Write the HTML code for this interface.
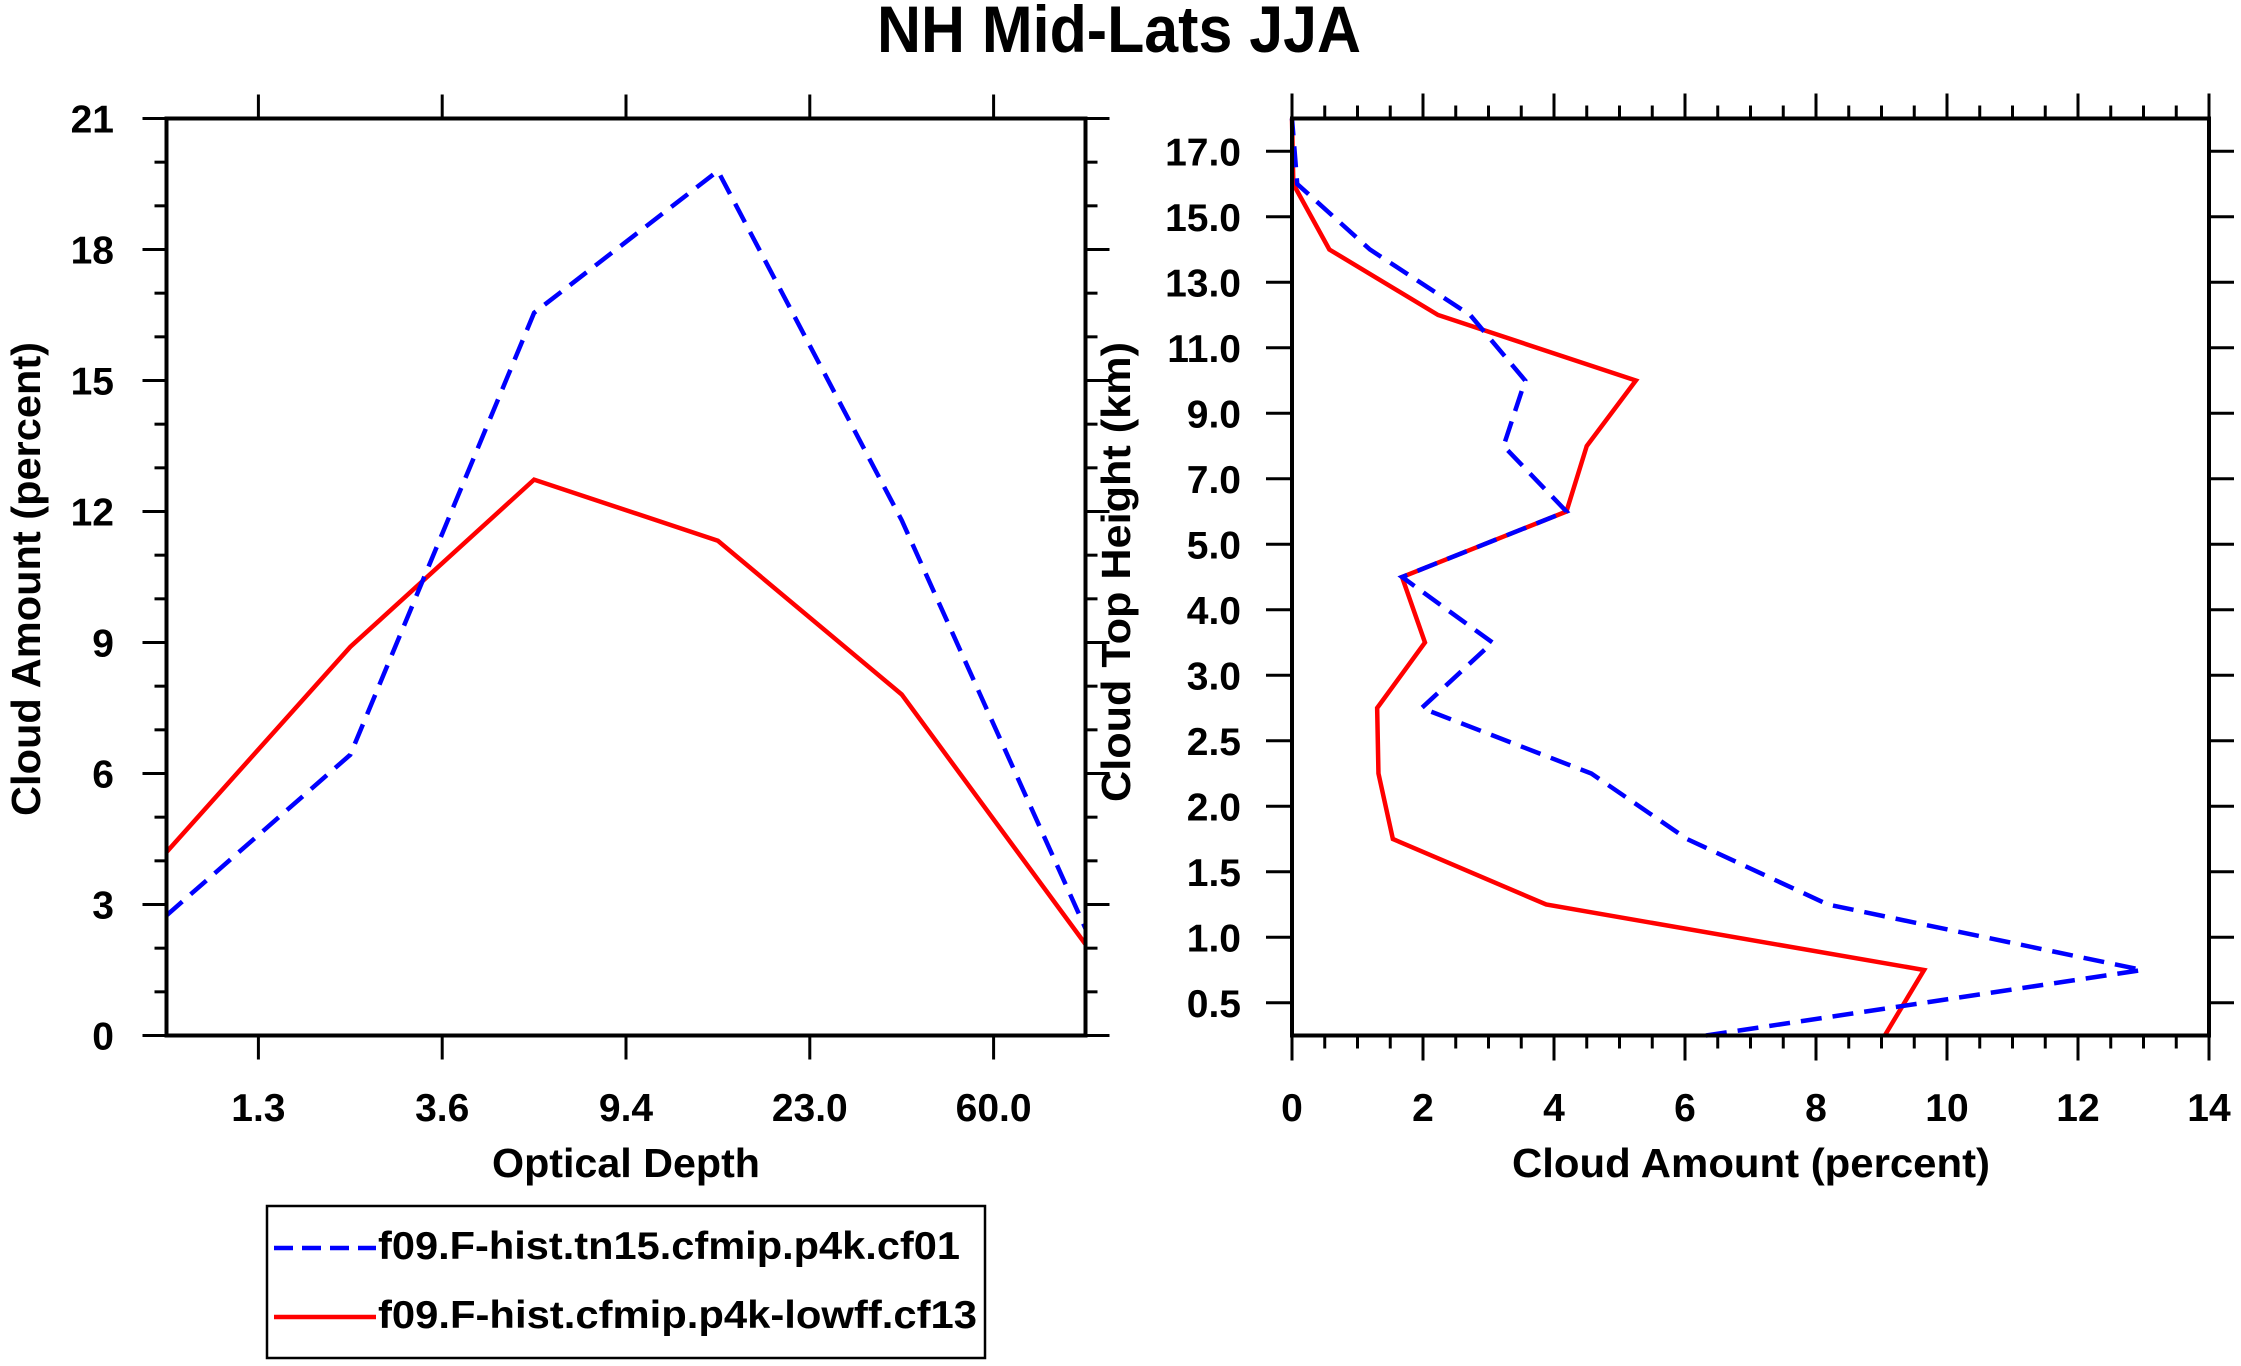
<!DOCTYPE html>
<html><head><meta charset="utf-8"><style>
html,body{margin:0;padding:0;background:#fff;}
svg{display:block;}
text{font-family:"Liberation Sans",Arial,sans-serif;font-weight:bold;fill:#000;}
</style></head><body>
<svg id="chart" width="2241" height="1366" viewBox="0 0 2241 1366" xmlns="http://www.w3.org/2000/svg">
<text x="1119" y="52" text-anchor="middle" font-size="66" textLength="484" lengthAdjust="spacingAndGlyphs">NH Mid-Lats JJA</text>
<g id="left"></g>
<g id="right"></g>
<g id="legend">
<rect x="267" y="1206" width="718" height="152" fill="none" stroke="#000" stroke-width="2.5"/>
<line x1="274" y1="1248" x2="376" y2="1248" stroke="#0000ff" stroke-width="4.5" stroke-dasharray="19 9"/>
<text x="378" y="1259" font-size="39" textLength="582" lengthAdjust="spacingAndGlyphs">f09.F-hist.tn15.cfmip.p4k.cf01</text>
<line x1="274" y1="1317" x2="376" y2="1317" stroke="#ff0000" stroke-width="4.5"/>
<text x="378" y="1328" font-size="39" textLength="599" lengthAdjust="spacingAndGlyphs">f09.F-hist.cfmip.p4k-lowff.cf13</text>
</g>
</svg>
<script>
// Left panel data (optical depth bins)
const tauTickLabels = ["1.3","3.6","9.4","23.0","60.0"];
const tauBlue = [2.75, 6.43, 16.55, 19.8, 11.8, 2.45];
const tauRed = [4.2, 8.9, 12.73, 11.33, 7.81, 2.09];
const leftYTicks = [0,3,6,9,12,15,18,21];
// Right panel data (cloud top height bins, bottom to top)
const heightTickLabels = ["0.5","1.0","1.5","2.0","2.5","3.0","4.0","5.0","7.0","9.0","11.0","13.0","15.0","17.0"];
const heightBlue = [6.32, 12.98, 8.18, 6.03, 4.57, 1.98, 3.06, 1.68, 4.19, 3.23, 3.56, 2.72, 1.19, 0.08, 0.0];
const heightRed = [9.05, 9.65, 3.88, 1.54, 1.32, 1.30, 2.03, 1.68, 4.19, 4.50, 5.25, 2.23, 0.57, 0.02, 0.0];
const rightXTicks = [0,2,4,6,8,10,12,14];

const NS="http://www.w3.org/2000/svg";
function mk(parent,tag,attrs,txt){const e=document.createElementNS(NS,tag);for(const k in attrs)e.setAttribute(k,attrs[k]);if(txt!==undefined)e.textContent=txt;parent.appendChild(e);return e;}
const T=118.5,B=1035.5;

// ---------- LEFT ----------
const L=document.getElementById('left');
const lx0=166.5,lx1=1085.5;
const lxs=i=>lx0+(lx1-lx0)*i/(tauBlue.length-1);
const lys=v=>B-(B-T)*v/21;
for(let v=0;v<=21;v++){
 const maj=v%3===0, len=maj?24:12;
 let t=mk(L,'line',{x1:lx0-len,x2:lx0,y1:lys(v),y2:lys(v),stroke:'#000','stroke-width':3});
 
 
 t=mk(L,'line',{x1:lx1,x2:lx1+len,y1:lys(v),y2:lys(v),stroke:'#000','stroke-width':3});
 
 
}
leftYTicks.forEach(v=>{
 const t=mk(L,'text',{x:114,y:lys(v)+14,'font-size':39,'text-anchor':'end'},String(v));
 
 
});
tauTickLabels.forEach((s,i)=>{
 const x=lxs(i+0.5);
 let t=mk(L,'line',{x1:x,x2:x,y1:T-24,y2:T,stroke:'#000','stroke-width':3});
 
 
 t=mk(L,'line',{x1:x,x2:x,y1:B,y2:B+24,stroke:'#000','stroke-width':3});
 
 
 t=mk(L,'text',{x:x,y:1121,'font-size':39,'text-anchor':'middle'},s);
 
 
});
function poly(g,xs,ys,vals,col,dash,name){
 const pts=vals.map((v,i)=>xs(i,v)+','+ys(i,v)).join(' ');
 const a={points:pts,fill:'none',stroke:col,'stroke-width':4.5,'stroke-linejoin':'miter'};
 if(dash)a['stroke-dasharray']='21 11';
 const p=mk(g,'polyline',a);
 
 
}
poly(L,(i)=>lxs(i),(i,v)=>lys(v),tauRed,'#ff0000',false,'series-cf13-optical-depth');
poly(L,(i)=>lxs(i),(i,v)=>lys(v),tauBlue,'#0000ff',true,'series-cf01-optical-depth');
let f=mk(L,'rect',{x:lx0,y:T,width:lx1-lx0,height:B-T,fill:'none',stroke:'#000','stroke-width':4});


let lab=mk(L,'text',{x:626,y:1177,'font-size':41,'text-anchor':'middle',textLength:268,lengthAdjust:'spacingAndGlyphs'},'Optical Depth');


lab=mk(L,'text',{x:0,y:0,'font-size':41,'text-anchor':'middle',textLength:474,lengthAdjust:'spacingAndGlyphs',transform:'translate(40,579) rotate(-90)'},'Cloud Amount (percent)');



// ---------- RIGHT ----------
const R=document.getElementById('right');
const rx0=1292,rx1=2209;
const rxs=v=>rx0+(rx1-rx0)*v/14;
const ryj=j=>B-(B-T)*j/(heightBlue.length-1);
for(let k=0;k<=28;k++){
 const v=k*0.5,maj=k%4===0,len=maj?25:13;
 let t=mk(R,'line',{x1:rxs(v),x2:rxs(v),y1:T-len,y2:T,stroke:'#000','stroke-width':3});
 
 
 t=mk(R,'line',{x1:rxs(v),x2:rxs(v),y1:B,y2:B+len,stroke:'#000','stroke-width':3});
 
 
}
rightXTicks.forEach(v=>{
 const t=mk(R,'text',{x:rxs(v),y:1121,'font-size':39,'text-anchor':'middle'},String(v));
 
 
});
heightTickLabels.forEach((s,i)=>{
 const y=ryj(i+0.5);
 let t=mk(R,'line',{x1:rx0-26,x2:rx0,y1:y,y2:y,stroke:'#000','stroke-width':3});
 
 
 t=mk(R,'line',{x1:rx1,x2:rx1+25,y1:y,y2:y,stroke:'#000','stroke-width':3});
 
 
 t=mk(R,'text',{x:1241,y:y+14,'font-size':39,'text-anchor':'end'},s);
 
 
});
poly(R,(j,v)=>rxs(v),(j)=>ryj(j),heightRed,'#ff0000',false,'series-cf13-cloud-top');
poly(R,(j,v)=>rxs(v),(j)=>ryj(j),heightBlue,'#0000ff',true,'series-cf01-cloud-top');
f=mk(R,'rect',{x:rx0,y:T,width:rx1-rx0,height:B-T,fill:'none',stroke:'#000','stroke-width':4});


lab=mk(R,'text',{x:1751,y:1177,'font-size':41,'text-anchor':'middle',textLength:478,lengthAdjust:'spacingAndGlyphs'},'Cloud Amount (percent)');


lab=mk(R,'text',{x:0,y:0,'font-size':41,'text-anchor':'middle',textLength:460,lengthAdjust:'spacingAndGlyphs',transform:'translate(1130,572) rotate(-90)'},'Cloud Top Height (km)');


</script>
</body></html>
